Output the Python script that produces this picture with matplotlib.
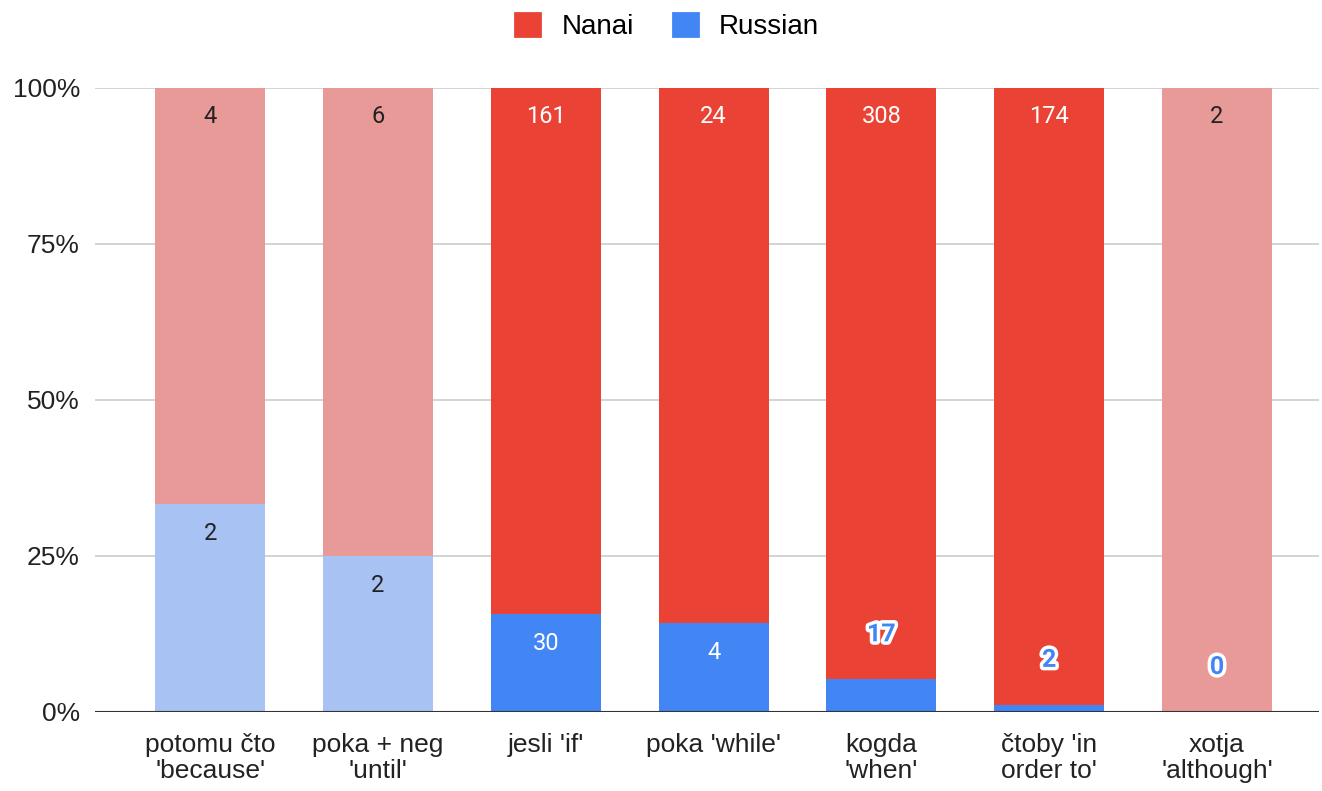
import matplotlib.pyplot as plt
import matplotlib.patheffects as pe
from matplotlib.patches import Patch
from matplotlib.ticker import PercentFormatter

plt.rcParams['font.family'] = ['Liberation Sans', 'DejaVu Sans']

# --- Data: counts per conjunction ---
categories = ["potomu čto\n'because'", "poka + neg\n'until'", "jesli 'if'",
              "poka 'while'", "kogda\n'when'", "čtoby 'in\norder to'",
              "xotja\n'although'"]
nanai = [4, 6, 161, 24, 308, 174, 2]
russian = [2, 2, 30, 4, 17, 2, 0]
# bars drawn in the lighter shade
faded = [True, True, False, False, False, False, True]

RED, BLUE = "#EA4335", "#4285F4"
RED_L, BLUE_L = "#E89A98", "#A7C2F3"

fig = plt.figure(figsize=(13.22, 7.91), dpi=100)
ax = fig.add_axes([0.072, 0.0999, 0.926, 0.789])

x = list(range(len(categories)))
totals = [n + r for n, r in zip(nanai, russian)]
r_frac = [r / t for r, t in zip(russian, totals)]
n_frac = [n / t for n, t in zip(nanai, totals)]

r_cols = [BLUE_L if f else BLUE for f in faded]
n_cols = [RED_L if f else RED for f in faded]

w = 0.655
ax.bar(x, r_frac, width=w, color=r_cols, zorder=2)
ax.bar(x, n_frac, width=w, bottom=r_frac, color=n_cols, zorder=2)

# px -> data units for label offsets
px = 1.0 / 624
lab_font = ['Roboto', 'DejaVu Sans']

for i in x:
    tc = "#222222" if faded[i] else "white"
    ax.text(i, 1.0 - 29 * px, str(nanai[i]), ha="center", va="center",
            fontsize=17, color=tc, family=lab_font, zorder=3)
    top = r_frac[i]
    if top > 0.08:
        ax.text(i, top - 30 * px, str(russian[i]), ha="center", va="center",
                fontsize=17, color=tc, family=lab_font, zorder=3)
    else:
        # segment too thin: put the count above it, outlined
        ax.text(i, top + 45 * px, str(russian[i]), ha="center", va="center",
                fontsize=18, color=BLUE, fontweight="bold", family=lab_font,
                zorder=3,
                path_effects=[pe.withStroke(linewidth=5, foreground="white")])

ax.set_ylim(0, 1)
ax.set_xlim(-0.685, 6.61)
ax.set_yticks([0, 0.25, 0.5, 0.75, 1.0])
ax.yaxis.set_major_formatter(PercentFormatter(1.0, decimals=0))
ax.grid(axis="y", color="#cccccc", linewidth=1.2, zorder=0)
ax.set_axisbelow(True)
for s in ["top", "right", "left", "bottom"]:
    ax.spines[s].set_visible(False)
ax.axhline(0, color="#333333", linewidth=1.5, zorder=4)

ax.set_xticks(x)
ax.set_xticklabels(categories, fontsize=19, color="#222222", linespacing=1.1)
ax.tick_params(axis="x", length=0, pad=15)
ax.tick_params(axis="y", length=0, pad=11, labelsize=19, labelcolor="#222222")

handles = [Patch(facecolor=RED, edgecolor=RED, linewidth=2, joinstyle="round",
                 label="Nanai"),
           Patch(facecolor=BLUE, edgecolor=BLUE, linewidth=2, joinstyle="round",
                 label="Russian")]
fig.legend(handles=handles, loc="center", bbox_to_anchor=(0.5045, 0.967), ncol=2,
           frameon=False, fontsize=20, handlelength=0.9, handleheight=0.9,
           columnspacing=1.4, handletextpad=0.75)

fig.savefig("out.png", dpi=100)
